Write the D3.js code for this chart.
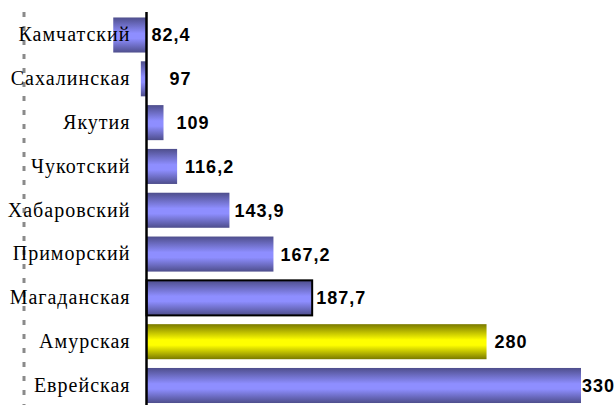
<!DOCTYPE html>
<html><head><meta charset="utf-8">
<script src="https://cdn.jsdelivr.net/npm/d3@7"></script>
<style>body{margin:0;background:#fff}svg{display:block}</style>
</head><body>
<script>
const categories = ["Камчатский","Сахалинская","Якутия","Чукотский","Хабаровский","Приморский","Магаданская","Амурская","Еврейская"];
const values = [82.4, 97, 109, 116.2, 143.9, 167.2, 187.7, 280, 330];
const valueLabels = ["82,4","97","109","116,2","143,9","167,2","187,7","280","330"];
// layout: label nudges in px (not data)
const labelDx = [5, 23, 13, 8, 5, 7, 4, 8, 1];
const highlight = "Амурская";
const selected = "Магаданская";

const W = 615, H = 405;
const svg = d3.select("body").append("svg").attr("width", W).attr("height", H);
const defs = svg.append("defs");
function grad(id, edge, mid){
  const g = defs.append("linearGradient").attr("id", id).attr("x1",0).attr("y1",0).attr("x2",0).attr("y2",1);
  [[0,edge],[0.45,mid],[0.6,mid],[1,edge]].forEach(([o,c])=>g.append("stop").attr("offset",o).attr("stop-color",c));
}
grad("gBlue", "#4e4e8c", "#8e8eff");
grad("gYel", "#7a7a00", "#ffff00");

const x = d3.scaleLinear().domain([100, 330]).range([146.5, 581]);
const y = d3.scaleBand().domain(categories).range([13.1, 407.4]).paddingInner(0.2).paddingOuter(0.1);

// left dashed line
svg.append("line").attr("x1",24).attr("x2",24).attr("y1",12).attr("y2",H)
  .attr("stroke","#8a8a8a").attr("stroke-width",3).attr("stroke-dasharray","5,9");

// bars
svg.selectAll("rect.bar").data(values).join("rect").attr("class","bar")
  .attr("x", d => Math.min(x(d), x(100)))
  .attr("width", d => Math.abs(x(d) - x(100)))
  .attr("y", (d,i) => y(categories[i]))
  .attr("height", y.bandwidth())
  .attr("fill", (d,i) => categories[i] === highlight ? "url(#gYel)" : "url(#gBlue)")
  .attr("stroke", (d,i) => categories[i] === selected ? "#000" : "none")
  .attr("stroke-width", 2);

// axis at 100
const axis = d3.axisLeft(y).tickSize(0).tickPadding(16);
const ag = svg.append("g").attr("transform", `translate(${x(100)},0)`).call(axis);
ag.select(".domain").remove();
ag.append("line").attr("x1",0).attr("x2",0).attr("y1",12).attr("y2",H)
  .attr("stroke","#000").attr("stroke-width",2.5);
ag.selectAll(".tick text")
  .attr("font-family","'Liberation Serif', 'Times New Roman', serif")
  .attr("font-size", 20).attr("fill","#000").attr("letter-spacing", 1);

// value labels
svg.selectAll("text.val").data(values).join("text").attr("class","val")
  .attr("x", (d,i) => Math.max(x(d), x(100)) + labelDx[i])
  .attr("y", (d,i) => y(categories[i]) + y.bandwidth()/2)
  .attr("dy","0.36em")
  .attr("font-family","'Liberation Sans', Arial, sans-serif")
  .attr("font-weight","bold").attr("font-size",18).attr("letter-spacing",1)
  .attr("fill","#000")
  .text((d,i) => valueLabels[i]);
</script>
</body></html>
